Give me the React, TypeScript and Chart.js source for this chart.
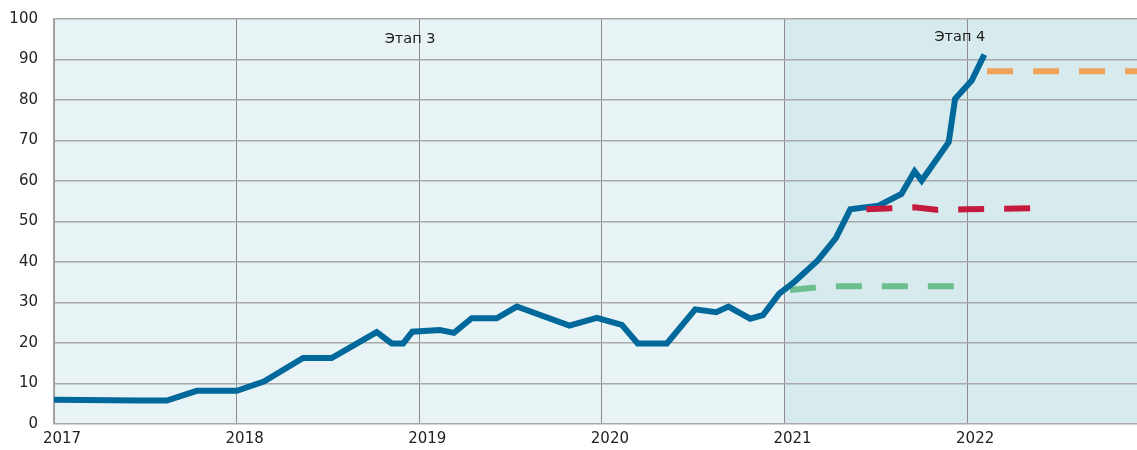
import React, { useEffect, useRef } from "react";
import { Chart, registerables } from "chart.js";

Chart.register(...registerables);

// Blue main series (year fraction, value)
const mainYears = [2017.0, 2017.464, 2017.618, 2017.782, 2018.001, 2018.149, 2018.364, 2018.52, 2018.767, 2018.849, 2018.912, 2018.962, 2019.113, 2019.19, 2019.287, 2019.424, 2019.534, 2019.822, 2019.972, 2020.109, 2020.196, 2020.356, 2020.511, 2020.626, 2020.693, 2020.812, 2020.882, 2020.971, 2021.049, 2021.182, 2021.281, 2021.36, 2021.515, 2021.64, 2021.712, 2021.751, 2021.899, 2021.934, 2022.025, 2022.094];
const mainValues = [6.0, 5.8, 5.8, 8.2, 8.2, 10.5, 16.3, 16.3, 22.7, 19.9, 19.9, 22.8, 23.2, 22.5, 26.1, 26.1, 29.0, 24.3, 26.2, 24.5, 19.9, 19.9, 28.3, 27.6, 29.0, 26.0, 26.9, 32.2, 34.9, 40.4, 45.9, 53.0, 53.9, 56.8, 62.4, 60.1, 69.6, 80.3, 84.8, 91.2];

// Green dashed forecast
const greenYears = [2021.03, 2021.25, 2021.935];
const greenValues = [33.1, 34.0, 34.0];

// Red dashed forecast
const redYears = [2021.448, 2021.71, 2021.83, 2022.0, 2022.352];
const redValues = [53.0, 53.5, 52.9, 53.0, 53.3];

// Orange dashed forecast
const orangeYears = [2022.109, 2022.93];
const orangeValues = [87.1, 87.1];

const yearTicks = [2017, 2018, 2019, 2020, 2021, 2022];
const yTicks = [0, 10, 20, 30, 40, 50, 60, 70, 80, 90, 100];

const xMin = 2017;
const xMax = 2022.93;
const stageSplit = 2021;
const stageLabels = ["Этап 3", "Этап 4"];
const stageLabelX = [2018.95, 2021.96];
const stageLabelY = [95.1, 95.6];

const toPoints = (xs: number[], ys: number[]) => xs.map((x, i) => ({ x, y: ys[i] }));

const FONT = "'DejaVu Sans', sans-serif";

export default function App() {
  const ref = useRef<HTMLCanvasElement | null>(null);

  useEffect(() => {
    document.body.style.margin = "0";
    const canvas = ref.current;
    if (!canvas) return;

    const bgPlugin = {
      id: "stageBg",
      beforeDraw(chart: any) {
        const { ctx, chartArea, scales } = chart;
        const xs = scales.x;
        const split = xs.getPixelForValue(stageSplit);
        ctx.save();
        ctx.fillStyle = "#e7f3f5";
        ctx.fillRect(chartArea.left, chartArea.top, split - chartArea.left, chartArea.bottom - chartArea.top);
        ctx.fillStyle = "#d7ebef";
        ctx.fillRect(split, chartArea.top, chartArea.right - split, chartArea.bottom - chartArea.top);
        ctx.restore();
      },
      beforeDatasetsDraw(chart: any) {
        const { ctx, scales } = chart;
        ctx.save();
        ctx.fillStyle = "#1a1a1a";
        ctx.font = "14.5px " + FONT;
        ctx.textAlign = "center";
        ctx.textBaseline = "middle";
        stageLabels.forEach((t, i) => {
          ctx.fillText(t, scales.x.getPixelForValue(stageLabelX[i]), scales.y.getPixelForValue(stageLabelY[i]));
        });
        ctx.restore();
      },
    };

    const chart = new Chart(canvas, {
      type: "line",
      data: {
        datasets: [
          {
            label: "red",
            data: toPoints(redYears, redValues),
            borderColor: "#c41a3e",
            borderWidth: 6,
            borderDash: [26, 20],
            pointRadius: 0,
            tension: 0,
            order: 0,
          },
          {
            label: "orange",
            data: toPoints(orangeYears, orangeValues),
            borderColor: "#f0a35a",
            borderWidth: 6,
            borderDash: [26, 20],
            pointRadius: 0,
            tension: 0,
            order: 0,
          },
          {
            label: "main",
            data: toPoints(mainYears, mainValues),
            borderColor: "#00689a",
            borderWidth: 6,
            pointRadius: 0,
            tension: 0,
            borderJoinStyle: "miter",
            order: 1,
          },
          {
            label: "green",
            data: toPoints(greenYears, greenValues),
            borderColor: "#6dbe8f",
            borderWidth: 6,
            borderDash: [26, 20],
            pointRadius: 0,
            tension: 0,
            order: 2,
          },
        ],
      },
      options: {
        animation: false,
        responsive: false,
        maintainAspectRatio: false,
        layout: { padding: { top: 19, right: 0, bottom: 0, left: 0 } },
        plugins: {
          legend: { display: false },
          tooltip: { enabled: false },
        },
        scales: {
          x: {
            type: "linear",
            min: xMin,
            max: xMax,
            afterBuildTicks(scale: any) {
              scale.ticks = yearTicks.map((v) => ({ value: v }));
            },
            afterFit(scale: any) {
              scale.height = 26;
              scale.paddingLeft = 0;
              scale.paddingRight = 0;
            },
            ticks: {
              callback: (v: any) => String(v),
              font: { family: FONT, size: 15 },
              color: "#222",
              padding: 6,
              labelOffset: 8,
              maxRotation: 0,
              autoSkip: false,
            },
            grid: { color: "#8c8c8c", lineWidth: 1, drawTicks: false },
            border: { display: false },
          },
          y: {
            type: "linear",
            min: 0,
            max: 100,
            afterBuildTicks(scale: any) {
              scale.ticks = yTicks.map((v) => ({ value: v }));
            },
            afterFit(scale: any) {
              scale.width = 54;
              scale.paddingTop = 0;
              scale.paddingBottom = 0;
            },
            ticks: {
              font: { family: FONT, size: 15 },
              color: "#222",
              padding: 16,
            },
            grid: { color: "#a9a9a9", lineWidth: 1.5, drawTicks: false },
            border: { display: true, color: "#a9a9a9", width: 1.5 },
          },
        },
      },
      plugins: [bgPlugin],
    });

    return () => chart.destroy();
  }, []);

  return (
    <div style={{ width: 1137, height: 450 }}>
      <canvas ref={ref} width={1137} height={450} style={{ display: "block" }} />
    </div>
  );
}
